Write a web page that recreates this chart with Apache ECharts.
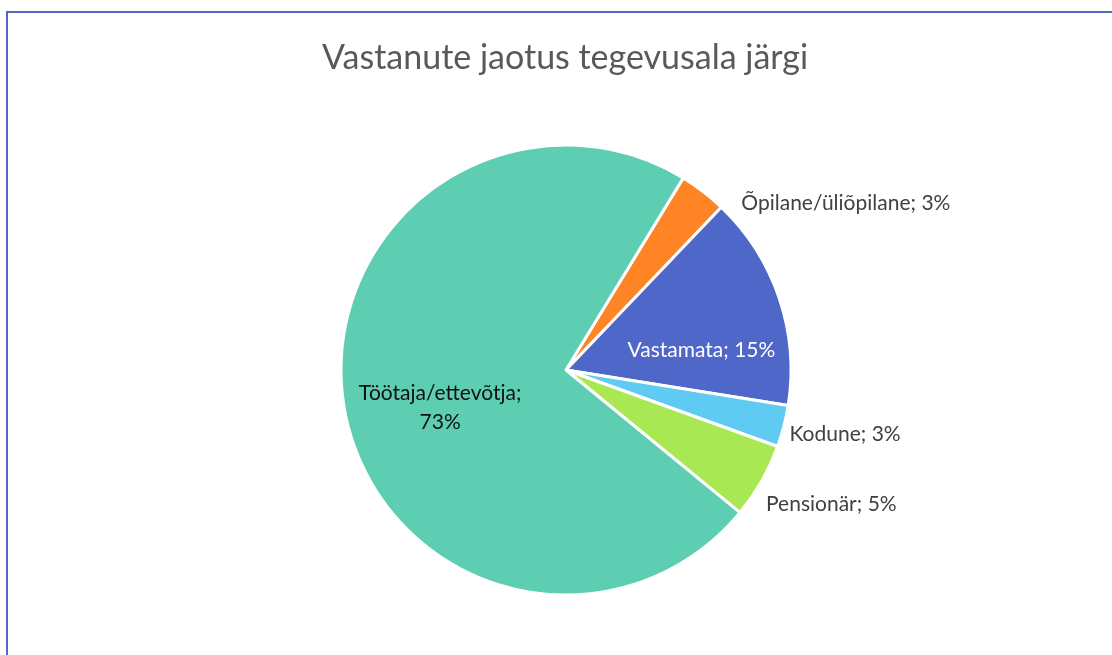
<!DOCTYPE html>
<html>
<head>
<meta charset="utf-8">
<script src="https://cdn.jsdelivr.net/npm/echarts@6/dist/echarts.min.js"></script>
<style>
html,body{margin:0;padding:0;background:#fff;}
#frame{position:absolute;left:6px;top:11px;width:1200px;height:700px;border-left:2px solid #4f67c8;border-top:2px solid #4f67c8;box-sizing:border-box;}
#chart{position:absolute;left:0;top:0;width:1112px;height:655px;}
</style>
</head>
<body>
<div id="frame"></div>
<div id="chart"></div>
<script>
const titleText = 'Vastanute jaotus tegevusala järgi';
const categories = ['Õpilane/üliõpilane', 'Vastamata', 'Kodune', 'Pensionär', 'Töötaja/ettevõtja'];
const values = [3.4, 15.4, 3.0, 5.4, 72.8];
const colors = ['#FE8425', '#4F67C8', '#5FCBF2', '#A8E953', '#5DCEB1'];

const labelStyles = [
  { position: 'outside', color: '#404040', offset: [18, 21] },
  { position: 'inside', color: '#ffffff', offset: [26, 17] },
  { position: 'outside', color: '#404040', offset: [-19, 5] },
  { position: 'outside', color: '#404040', offset: [-19, 17] },
  { position: 'inside', color: '#111111', offset: [-12, 18] }
];

const data = categories.map((name, i) => ({
  name: name,
  value: values[i],
  itemStyle: { color: colors[i] },
  label: Object.assign({
    formatter: function (p) {
      const txt = Math.round(p.value) + '%';
      return p.name === 'Töötaja/ettevõtja' ? p.name + ';\n' + txt : p.name + '; ' + txt;
    }
  }, labelStyles[i])
}));

const chart = echarts.init(document.getElementById('chart'), null, { renderer: 'canvas' });
chart.setOption({
  backgroundColor: 'transparent',
  animation: false,
  title: {
    text: titleText,
    left: 317,
    top: 36,
    textStyle: { fontFamily: 'Lato', fontSize: 34, fontWeight: 'normal', color: '#595959' }
  },
  series: [{
    type: 'pie',
    center: [566, 370],
    radius: 225,
    startAngle: 58.6,
    clockwise: true,
    data: data,
    itemStyle: { borderColor: '#ffffff', borderWidth: 3 },
    label: {
      show: true,
      fontFamily: 'Lato',
      fontSize: 21,
      lineHeight: 29,
      align: 'center'
    },
    labelLine: { show: false, length: 12, length2: 8 },
    emphasis: { disabled: true }
  }]
});
</script>
</body>
</html>
